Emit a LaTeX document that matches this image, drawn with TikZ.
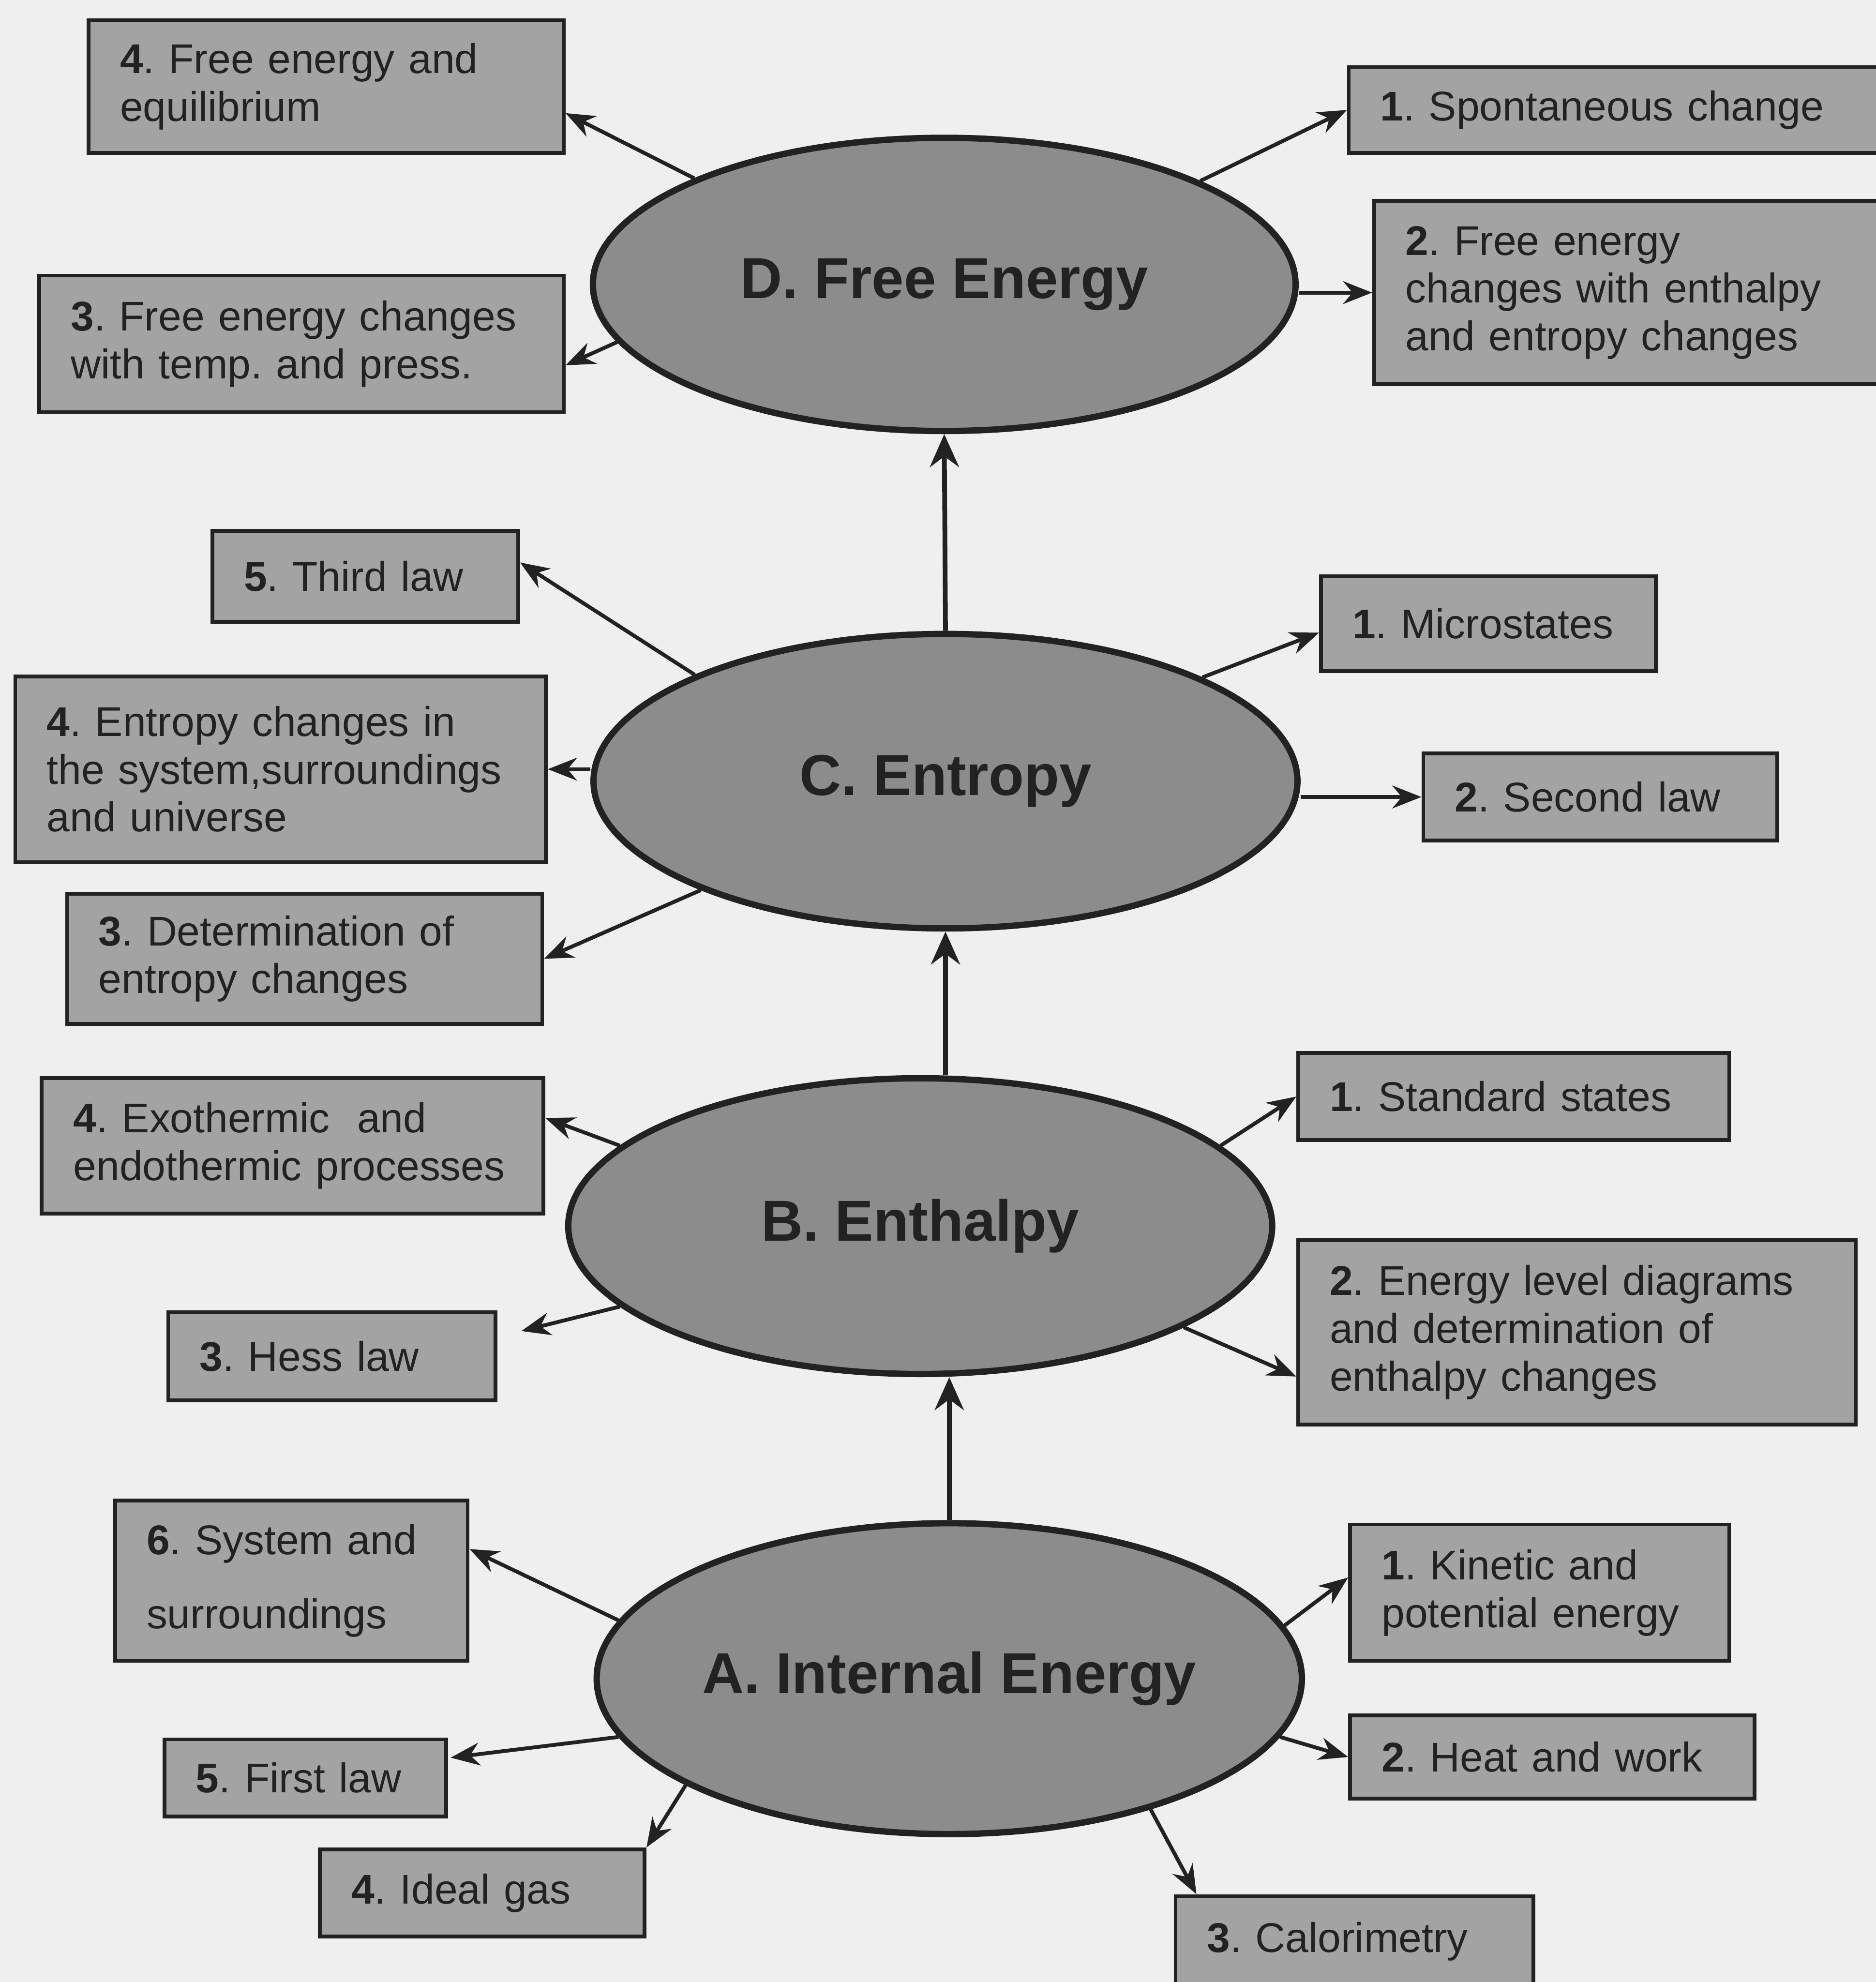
\documentclass[tikz,border=0pt]{standalone}
\usepackage{fontspec}
\setmainfont{Liberation Sans}
\usetikzlibrary{arrows.meta,shapes.geometric,calc}

\definecolor{paper}{HTML}{EFEFEF}
\definecolor{boxc}{HTML}{A3A3A3}
\definecolor{hubc}{HTML}{8C8C8C}
\definecolor{inkc}{HTML}{222222}

\newcommand\topicfont{\frenchspacing\fontsize{18.7pt}{21.5pt}\selectfont}
\newcommand\hubfont{\frenchspacing\fontsize{26pt}{30pt}\selectfont\bfseries}
\newcommand\itemno[1]{\textbf{#1}.}

\tikzset{
  hub/.style={ellipse, draw=inkc, line width=0.1cm, fill=hubc, inner sep=0pt,
    text=inkc, font=\hubfont},
  topic/.style={rectangle, draw=inkc, line width=0.06cm, fill=boxc,
    inner xsep=0.5cm, inner ysep=0pt, align=left, text=inkc, font=\topicfont},
  link/.style={draw=inkc, line width=0.06cm,
    -{Stealth[length=0.46cm,width=0.36cm]}},
  trunk/.style={draw=inkc, line width=0.075cm,
    -{Stealth[length=0.52cm,width=0.46cm]}}
}

\begin{document}
\begin{tikzpicture}[x=0.02cm,y=-0.02cm]
\useasboundingbox (0,0) rectangle (1484,1568);
\fill[paper] (0,0) rectangle (1484,1568);

% central concepts
\node[hub, minimum width=11.12cm, minimum height=4.64cm] (D) at (747,225) {D. Free Energy};
\node[hub, minimum width=11.14cm, minimum height=4.66cm] (C) at (748,618) {C. Entropy};
\node[hub, minimum width=11.14cm, minimum height=4.68cm] (B) at (728,970) {B. Enthalpy};
\node[hub, minimum width=11.16cm, minimum height=4.92cm] (A) at (751,1328) {A. Internal Energy};

% D. Free Energy topics
\node[topic, text width=6.52cm, minimum height=2.10cm] (D4) at (258,68.5)
  {\itemno{4} Free energy and\\equilibrium};
\node[topic, text width=7.30cm, minimum height=2.16cm] (D3) at (238.5,272)
  {\itemno{3} Free energy changes\\with temp. and press.};
\node[topic, text width=7.86cm, minimum height=1.36cm] (D1) at (1288.5,87)
  {\itemno{1} Spontaneous change};
\node[topic, text width=7.46cm, minimum height=2.90cm] (D2) at (1298.5,231.5)
  {\itemno{2} Free energy\\changes with enthalpy\\and entropy changes};

% C. Entropy topics
\node[topic, text width=3.84cm, minimum height=1.44cm] (C5) at (289,456)
  {\itemno{5} Third law};
\node[topic, text width=7.40cm, minimum height=2.94cm] (C4) at (222,608.5)
  {\itemno{4} Entropy changes in\\the system,surroundings\\and universe};
\node[topic, text width=6.52cm, minimum height=2.06cm] (C3) at (241,758.5)
  {\itemno{3} Determination of\\entropy changes};
\node[topic, text width=4.30cm, minimum height=1.50cm] (C1) at (1177.5,493.5)
  {\itemno{1} Microstates};
\node[topic, text width=4.60cm, minimum height=1.38cm] (C2) at (1266,630.5)
  {\itemno{2} Second law};

% B. Enthalpy topics
\node[topic, text width=6.94cm, minimum height=2.14cm] (B4) at (231.5,906.5)
  {\itemno{4} Exothermic\ \ and\\endothermic processes};
\node[topic, text width=4.18cm, minimum height=1.40cm] (B3) at (262.5,1073)
  {\itemno{3} Hess law};
\node[topic, text width=5.82cm, minimum height=1.38cm] (B1) at (1197.5,867.5)
  {\itemno{1} Standard states};
\node[topic, text width=7.82cm, minimum height=2.92cm] (B2) at (1247.5,1054)
  {\itemno{2} Energy level diagrams\\and determination of\\enthalpy changes};

% A. Internal Energy topics
\node[topic, text width=4.58cm, minimum height=2.54cm] (A6) at (230.5,1250.5)
  {\itemno{6} System and\\[11.9pt]surroundings};
\node[topic, text width=3.46cm, minimum height=1.22cm] (A5) at (241.5,1406.5)
  {\itemno{5} First law};
\node[topic, text width=4.14cm, minimum height=1.38cm] (A4) at (381.5,1497.5)
  {\itemno{4} Ideal gas};
\node[topic, text width=5.00cm, minimum height=2.16cm] (A1) at (1218,1260)
  {\itemno{1} Kinetic and\\potential energy};
\node[topic, text width=5.40cm, minimum height=1.32cm] (A2) at (1228,1390)
  {\itemno{2} Heat and work};
\node[topic, text width=4.66cm, minimum height=1.44cm] (A3) at (1071.5,1536)
  {\itemno{3} Calorimetry};

% links between the central concepts
\draw[trunk] (A.north) -- (A.north |- B.south);
\draw[trunk] (C.south |- B.north) -- (C.south);
\draw[trunk] (C.north) -- (D.south);

% D links
\draw[link] (D.157) -- ($(D4.east)+(0,21)$);
\draw[link] (D.190) -- ($(D3.east)+(0,17)$);
\draw[link] (D.22) -- (D1.west);
\draw[link] (D2.west -| D.east) -- (D2.west);

% C links
\draw[link] (C.157) -- ($(C5.east)+(0,-11)$);
\draw[link] (C4.east -| C.west) -- (C4.east);
\draw[link] (C.204) -- (C3.east);
\draw[link] (C.22) -- ($(C1.west)+(0,7)$);
\draw[link] (C2.west -| C.east) -- (C2.west);

% B links
\draw[link] (B.165) -- ($(B4.east)+(0,-22)$);
\draw[link] (B.195) -- ($(B3.east)+(19,-20)$);
\draw[link] (B.15.6) -- (B1.west);
\draw[link] (B.-21) -- ($(B2.west)+(0,35)$);

% A links
\draw[link] (A.170) -- ($(A6.east)+(0,-25)$);
\draw[link] (A.190) -- ($(A5.east)+(2,-16)$);
\draw[link] (A.202) -- (A4.north east);
\draw[link] (A.9.6) -- ($(A1.west)+(0,-12)$);
\draw[link] (A.-10.5) -- (A2.west);
\draw[link] (A.-33) -- ($(A3.north west)+(18,0)$);
\end{tikzpicture}
\end{document}
